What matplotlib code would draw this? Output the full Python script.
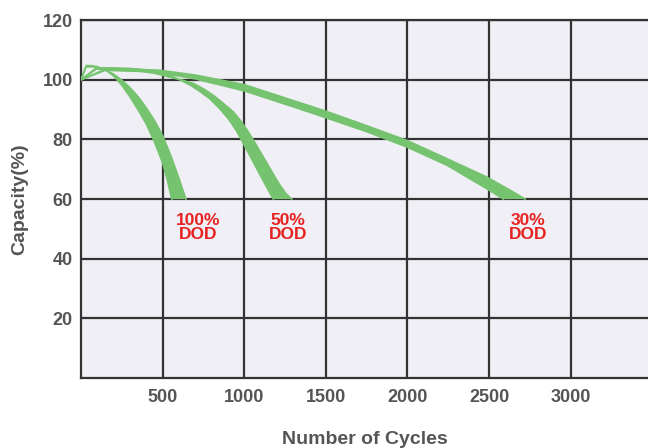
import numpy as np
import matplotlib.pyplot as plt

# band edges: (cycles, capacity %)
dod100_upper_x = [0, 32, 70, 100, 150, 200, 250, 300, 350, 400, 450, 500, 528, 556]
dod100_upper_y = [100, 104.8, 104.7, 104.4, 103.3, 101.3, 98.2, 94.3, 89.9, 85.2, 79.2, 72.2, 66.6, 60]
dod100_lower_x = [0, 32, 90, 150, 200, 250, 300, 350, 400, 450, 500, 550, 600, 643]
dod100_lower_y = [100, 104.4, 104.3, 103.3, 101.9, 99.9, 97.4, 94.3, 90.6, 86.4, 81.3, 74.6, 67, 60]

dod50_upper_x = [0, 94, 200, 300, 400, 484, 550, 607, 670, 729, 790, 852, 905, 954, 1015, 1077, 1130, 1178]
dod50_upper_y = [100, 104, 104, 103.8, 103.3, 102.6, 101.4, 100, 98.2, 96.1, 93.6, 90.2, 86.8, 82.8, 76.6, 70.2, 64.8, 60]
dod50_lower_x = [0, 94, 250, 350, 450, 550, 620, 688, 750, 811, 870, 933, 975, 1015, 1054, 1097, 1140, 1176, 1215, 1255, 1291]
dod50_lower_y = [100, 103.6, 103.4, 103, 102.2, 100.8, 99.9, 98.8, 97, 94.8, 92.2, 89.3, 86.5, 83.4, 80, 76, 72, 68.6, 65, 61.9, 60]

dod30_upper_x = [0, 150, 300, 484, 700, 1000, 1342, 1500, 1751, 1996, 2241, 2486, 2629, 2721]
dod30_upper_y = [100, 103.6, 103.6, 103.2, 101.6, 98.4, 92.3, 89.5, 84.6, 79.7, 73.6, 67.4, 63, 60]
dod30_lower_x = [0, 150, 250, 450, 700, 1000, 1342, 1500, 1751, 1996, 2241, 2486, 2588]
dod30_lower_y = [100, 103.2, 103, 102.7, 100.3, 96.3, 90.2, 87.3, 82.6, 77.5, 71.4, 63.5, 60]

labels = ['100%\nDOD', '50%\nDOD', '30%\nDOD']
label_x = [717, 1268, 2739]
label_y = [50.4, 50.4, 50.4]

x_ticks = [500, 1000, 1500, 2000, 2500, 3000]
y_ticks = [20, 40, 60, 80, 100, 120]

green = '#76c36f'
grey = '#555555'

fig = plt.figure(figsize=(6.48, 4.48), dpi=100)
ax = fig.add_axes([0.125, 0.156, 0.875, 0.799])
ax.set_facecolor('#efeff5')

bands = [
    (dod100_upper_x, dod100_upper_y, dod100_lower_x, dod100_lower_y),
    (dod50_upper_x, dod50_upper_y, dod50_lower_x, dod50_lower_y),
    (dod30_upper_x, dod30_upper_y, dod30_lower_x, dod30_lower_y),
]
for ux, uy, lx, ly in bands:
    px = list(ux) + list(lx)[::-1]
    py = list(uy) + list(ly)[::-1]
    ax.fill(px, py, color=green, lw=0, zorder=3)
    ax.plot(ux, uy, color=green, lw=1.2, zorder=3, solid_joinstyle='round')
    ax.plot(lx, ly, color=green, lw=1.2, zorder=3, solid_joinstyle='round')

for t, x, y in zip(labels, label_x, label_y):
    ax.text(x, y, t, color='#e8201f', fontsize=12.5, fontweight='bold',
            ha='center', va='center', linespacing=0.95,
            family='Liberation Sans', zorder=4)

ax.set_xlim(0, 3474)
ax.set_ylim(0, 120)
ax.set_xticks(x_ticks)
ax.set_yticks(y_ticks)
ax.set_axisbelow(True)
ax.grid(True, color='#333333', lw=1.6)
ax.tick_params(length=0, labelsize=13, labelcolor=grey)
ax.tick_params(axis='x', pad=8)
ax.tick_params(axis='y', pad=6)
for lab in ax.get_xticklabels() + ax.get_yticklabels():
    lab.set_fontweight('bold')
    lab.set_family('Liberation Sans')

for side in ['left', 'bottom', 'top']:
    ax.spines[side].set_color('#333333')
    ax.spines[side].set_linewidth(1.6)
ax.spines['right'].set_visible(False)

ax.set_xlabel('Number of Cycles', fontsize=14, fontweight='bold', color=grey,
              family='Liberation Sans', labelpad=18)
ax.set_ylabel('Capacity(%)', fontsize=14, fontweight='bold', color=grey,
              family='Liberation Sans', labelpad=10)

fig.savefig('out.png', dpi=100)
